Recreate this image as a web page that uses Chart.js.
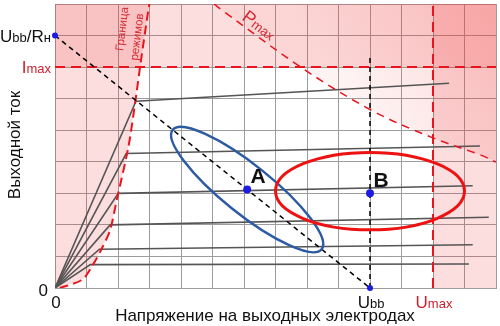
<!DOCTYPE html>
<html>
<head>
<meta charset="utf-8">
<script src="https://cdn.jsdelivr.net/npm/chart.js@4.4.1/dist/chart.umd.min.js"></script>
<style>
  html, body { margin: 0; padding: 0; background: #fff; }
  canvas { display: block; }
</style>
</head>
<body>
<canvas id="chart" width="500" height="326"></canvas>
<script>
// Output characteristics (6 curves): straight rise from origin to the knee, then a gently rising plateau
const curveKneeU = [2.57, 2.26, 2.01, 1.75, 1.41, 1.12];
const curveKneeI = [5.92, 4.26, 3.00, 2.00, 1.23, 0.74];
const curveEndU = [12.51, 13.49, 13.26, 13.77, 13.26, 13.14];
const curveEndI = [6.49, 4.50, 3.24, 2.24, 1.37, 0.76];

// Mode boundary ("Граница режимов")
const boundaryU = [0.15, 0.86, 1.17, 1.49, 1.75, 1.96, 2.33, 2.54, 2.70, 2.96, 3.0];
const boundaryI = [0, 0.26, 0.68, 1.26, 1.84, 2.79, 4.47, 5.84, 7.0, 8.79, 9.0];

// Max dissipation curve
const pmaxU = [5.05, 5.32, 7.8, 10.05, 11.94, 13.52, 14.0];
const pmaxI = [9.0, 8.79, 7.0, 5.63, 4.78, 4.21, 3.99];

// Load line and limits
const loadU = [0, 10];
const loadI = [8, 0];
const Ubb = 10;
const UbbLineTop = 7.3;
const Imax = 7;
const Umax = 12;

// Marked points: Ubb/Rн, Ubb, A, B
const pointU = [0, 10, 6.1, 10];
const pointI = [8, 0, 3.12, 3.0];
const pointNames = ['', '', 'A', 'B'];

// Axis tick labels
const yTickValues = [8, 7, 0];
const yTickLabels = [[['U', 17], ['bb', 13], ['/R', 17], ['н', 13]], [['I', 17], ['max', 13]], [['0', 17]]];
const yTickColors = ['#111', '#cc1f2b', '#111'];
const xTickValues = [0, 10, 12];
const xTickLabels = [[['0', 17]], [['U', 17], ['bb', 13]], [['U', 17], ['max', 13]]];
const xTickColors = ['#111', '#111', '#cc1f2b'];

const FONT = '"Liberation Sans", Arial, sans-serif';

function pts(us, is) {
  return us.map((u, k) => ({ x: u, y: is[k] }));
}

// draws mixed-size text sharing one baseline
function drawRich(ctx, parts, x, y, align, color) {
  let w = 0;
  parts.forEach(p => { ctx.font = p[1] + 'px ' + FONT; w += ctx.measureText(p[0]).width; });
  let cx = align === 'right' ? x - w : align === 'center' ? x - w / 2 : x;
  ctx.fillStyle = color;
  ctx.textAlign = 'left';
  ctx.textBaseline = 'alphabetic';
  parts.forEach(p => {
    ctx.font = p[1] + 'px ' + FONT;
    ctx.fillText(p[0], cx, y);
    cx += ctx.measureText(p[0]).width;
  });
}

const datasets = [];

datasets.push({
  label: 'points',
  data: pts(pointU, pointI),
  showLine: false,
  pointRadius: [3, 3, 4, 4],
  pointBackgroundColor: '#1c1ce0',
  pointBorderWidth: 0,
  clip: false,
  order: 0
});

for (let k = 0; k < curveKneeU.length; k++) {
  datasets.push({
    label: 'curve' + k,
    data: [{ x: 0, y: 0 }, { x: curveKneeU[k], y: curveKneeI[k] }, { x: curveEndU[k], y: curveEndI[k] }],
    showLine: true,
    borderColor: '#555',
    borderWidth: 1.6,
    pointRadius: 0,
    order: 3
  });
}

datasets.push({
  label: 'load',
  data: pts(loadU, loadI),
  showLine: true,
  borderColor: '#000',
  borderWidth: 1.5,
  borderDash: [5, 4],
  pointRadius: 0,
  order: 2
});

datasets.push({
  label: 'ubb',
  data: [{ x: Ubb, y: 0 }, { x: Ubb, y: UbbLineTop }],
  showLine: true,
  borderColor: '#000',
  borderWidth: 1.5,
  borderDash: [5, 4],
  pointRadius: 0,
  order: 2
});

datasets.push({
  label: 'imax',
  data: [{ x: 0, y: Imax }, { x: 14, y: Imax }],
  showLine: true,
  borderColor: '#e8141e',
  borderWidth: 2,
  borderDash: [10, 6],
  pointRadius: 0,
  order: 2
});

datasets.push({
  label: 'umax',
  data: [{ x: Umax, y: 0 }, { x: Umax, y: 9 }],
  showLine: true,
  borderColor: '#e8141e',
  borderWidth: 2,
  borderDash: [10, 6],
  pointRadius: 0,
  order: 2
});

datasets.push({
  label: 'boundary',
  data: pts(boundaryU, boundaryI),
  showLine: true,
  borderColor: '#e8141e',
  borderWidth: 2,
  borderDash: [9, 5],
  tension: 0.3,
  pointRadius: 0,
  order: 2
});

datasets.push({
  label: 'pmax',
  data: pts(pmaxU, pmaxI),
  showLine: true,
  borderColor: '#e8141e',
  borderWidth: 1.5,
  borderDash: [8, 6],
  tension: 0.35,
  pointRadius: 0,
  order: 2
});

// pink forbidden zones, layered so overlaps get darker
const zonesPlugin = {
  id: 'zones',
  beforeDatasetsDraw(chart) {
    const { ctx, chartArea: a, scales: { x, y } } = chart;
    const fill = 'rgba(240, 60, 60, 0.17)';
    ctx.save();
    ctx.beginPath();
    ctx.rect(a.left, a.top, a.right - a.left, a.bottom - a.top);
    ctx.clip();

    ctx.fillStyle = fill;
    // above Imax
    ctx.fillRect(a.left, a.top, a.right - a.left, y.getPixelForValue(Imax) - a.top);
    // right of Umax
    ctx.fillRect(x.getPixelForValue(Umax), a.top, a.right - x.getPixelForValue(Umax), a.bottom - a.top);

    // left of mode boundary
    ctx.beginPath();
    ctx.moveTo(x.getPixelForValue(0), y.getPixelForValue(0));
    boundaryU.forEach((u, k) => ctx.lineTo(x.getPixelForValue(u), y.getPixelForValue(boundaryI[k])));
    ctx.lineTo(x.getPixelForValue(0), y.getPixelForValue(9));
    ctx.closePath();
    ctx.fill();

    // above Pmax, fading in away from the curve
    const g = ctx.createLinearGradient(x.getPixelForValue(9.5), y.getPixelForValue(6), x.getPixelForValue(14), y.getPixelForValue(9));
    g.addColorStop(0, 'rgba(240, 60, 60, 0.06)');
    g.addColorStop(1, 'rgba(240, 60, 60, 0.22)');
    ctx.fillStyle = g;
    ctx.beginPath();
    pmaxU.forEach((u, k) => {
      const px = x.getPixelForValue(u), py = y.getPixelForValue(pmaxI[k]);
      if (k === 0) ctx.moveTo(px, py); else ctx.lineTo(px, py);
    });
    ctx.lineTo(x.getPixelForValue(14), y.getPixelForValue(9));
    ctx.closePath();
    ctx.fill();
    ctx.restore();
  },
  afterDatasetsDraw(chart) {
    const { ctx, scales: { x, y } } = chart;
    const unit = x.getPixelForValue(1) - x.getPixelForValue(0);

    // blue ellipse around A, stretched along the load line
    const ang = Math.atan2(y.getPixelForValue(loadI[1]) - y.getPixelForValue(loadI[0]),
                           x.getPixelForValue(loadU[1]) - x.getPixelForValue(loadU[0]));
    ctx.save();
    ctx.lineWidth = 2.5;
    ctx.strokeStyle = '#2c5ba3';
    ctx.beginPath();
    ctx.ellipse(x.getPixelForValue(pointU[2]), y.getPixelForValue(pointI[2]), 3.03 * unit, 0.77 * unit, ang, 0, Math.PI * 2);
    ctx.stroke();

    // red ellipse around B
    ctx.lineWidth = 3;
    ctx.strokeStyle = '#ee1111';
    ctx.beginPath();
    ctx.ellipse(x.getPixelForValue(10.0), y.getPixelForValue(3.07), 3.0 * unit, 1.23 * unit, 0, 0, Math.PI * 2);
    ctx.stroke();
    ctx.restore();
  },
  afterDraw(chart) {
    const { ctx, chartArea: a, scales: { x, y } } = chart;
    ctx.save();

    // tick labels
    yTickValues.forEach((v, k) => {
      const py = y.getPixelForValue(v);
      const dy = v === 0 ? 8 : 6;
      drawRich(ctx, yTickLabels[k], a.left - (v === 0 ? 7 : 4), py + dy, 'right', yTickColors[k]);
    });
    xTickValues.forEach((v, k) => {
      drawRich(ctx, xTickLabels[k], x.getPixelForValue(v) + 1, a.bottom + 20, 'center', xTickColors[k]);
    });

    // axis titles
    ctx.fillStyle = '#111';
    ctx.font = '17px ' + FONT;
    ctx.textAlign = 'center';
    ctx.textBaseline = 'middle';
    ctx.fillText('Напряжение на выходных электродах', 265, 316);
    ctx.save();
    ctx.translate(15, 145);
    ctx.rotate(-Math.PI / 2);
    ctx.fillText('Выходной ток', 0, 0);
    ctx.restore();

    // point names
    ctx.font = 'bold 21px ' + FONT;
    pointNames.forEach((n, k) => {
      if (!n) return;
      ctx.fillText(n, x.getPixelForValue(pointU[k]) + 11, y.getPixelForValue(pointI[k]) - 12);
    });

    // boundary caption
    ctx.fillStyle = '#d42a34';
    ctx.font = '11.5px ' + FONT;
    ctx.save();
    ctx.translate(122.5, 29);
    ctx.rotate(-Math.PI / 2 + 0.12);
    ctx.fillText('Граница', 0, 0);
    ctx.restore();
    ctx.save();
    ctx.translate(137.5, 37);
    ctx.rotate(-Math.PI / 2 + 0.12);
    ctx.fillText('режимов', 0, 0);
    ctx.restore();

    // Pmax caption along the curve
    ctx.save();
    ctx.translate(241, 19);
    ctx.rotate(0.65);
    drawRich(ctx, [['P', 18], ['max', 13]], 0, 0, 'left', '#d42a34');
    ctx.restore();

    ctx.restore();
  }
};

new Chart(document.getElementById('chart'), {
  type: 'scatter',
  data: { datasets: datasets },
  options: {
    responsive: false,
    devicePixelRatio: 1,
    animation: false,
    layout: { padding: { left: 55, right: 1, top: 3, bottom: 38 } },
    plugins: { legend: { display: false }, tooltip: { enabled: false } },
    scales: {
      x: {
        type: 'linear', min: 0, max: 14,
        ticks: { display: false, stepSize: 1 },
        grid: { color: '#9c9c9c', lineWidth: 1, drawTicks: false },
        border: { display: true, color: '#9c9c9c' }
      },
      y: {
        type: 'linear', min: 0, max: 9,
        ticks: { display: false, stepSize: 1 },
        grid: { color: '#9c9c9c', lineWidth: 1, drawTicks: false },
        border: { display: true, color: '#9c9c9c' }
      }
    }
  },
  plugins: [zonesPlugin]
});
</script>
</body>
</html>
